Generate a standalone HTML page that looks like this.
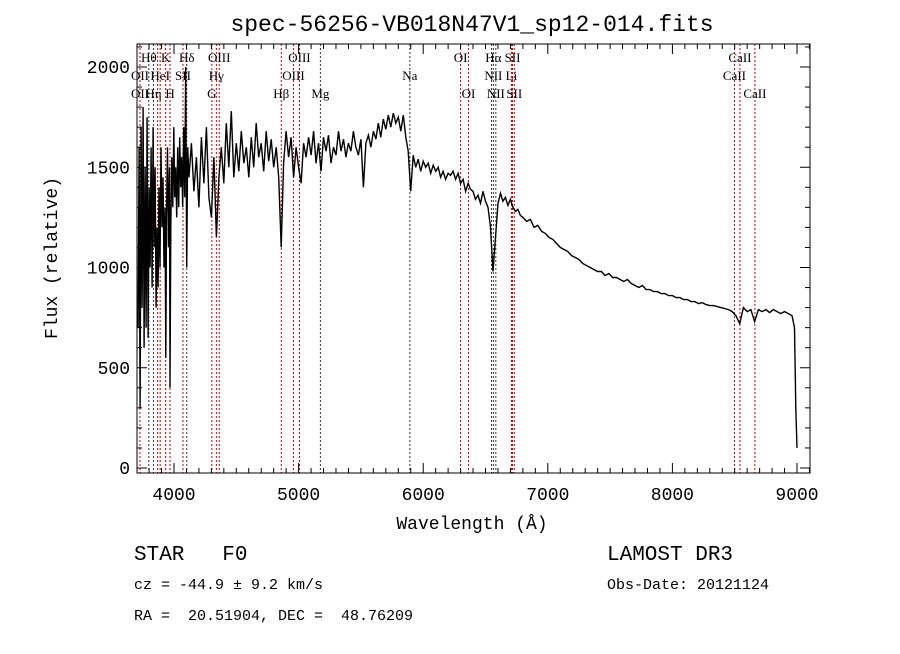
<!DOCTYPE html>
<html><head><meta charset="utf-8"><style>
body{margin:0;background:#fff;}
svg text{font-family:"Liberation Serif",serif;white-space:pre;}
.mono{font-family:"Liberation Mono",monospace !important;}
</style></head><body>
<svg id="chart" width="900" height="649" viewBox="0 0 900 649" xmlns="http://www.w3.org/2000/svg" xml:space="preserve">
<rect x="0" y="0" width="900" height="649" fill="#fff"/>
<text class="mono" x="472" y="31" font-size="23" text-anchor="middle">spec-56256-VB018N47V1_sp12-014.fits</text>
<g id="lines"></g>
<g id="labels"></g>
<polyline id="spec" fill="none" stroke="#000" stroke-width="1.4"/>
<g id="axes"></g>
<text class="mono" x="472" y="529" font-size="18" text-anchor="middle">Wavelength (Å)</text>
<text class="mono" transform="translate(57,258) rotate(-90)" font-size="18" text-anchor="middle">Flux (relative)</text>
<text class="mono" x="134" y="560" font-size="21">STAR   F0</text>
<text class="mono" x="607" y="560" font-size="21">LAMOST DR3</text>
<text class="mono" x="134" y="589" font-size="15">cz = -44.9 ± 9.2 km/s</text>
<text class="mono" x="607" y="589" font-size="15">Obs-Date: 20121124</text>
<text class="mono" x="134" y="620" font-size="15">RA =  20.51904, DEC =  48.76209</text>
</svg>
<script>
const waves=[3712,3720,3728,3736,3744,3752,3760,3768,3776,3784,3792,3800,3808,3816,3824,3832,3840,3848,3856,3864,3872,3880,3888,3896,3904,3912,3920,3928,3934,3940,3948,3956,3964,3968,3974,3982,3990,3998,4006,4014,4022,4030,4038,4046,4054,4062,4070,4078,4086,4094,4102,4110,
4120,4140,4160,4180,4200,4220,4240,4260,4280,4300,4320,4340,4360,4380,4400,4420,4440,4460,4480,4500,4520,4540,4560,4580,4600,4620,4640,4660,4680,4700,4720,4740,4760,4780,4800,4820,4840,4860,4880,4900,4920,4940,4960,4980,5000,5020,5040,5060,5080,5100,5120,5140,5160,5180,5200,5220,5240,5260,5280,5300,5320,5340,5360,5380,5400,5420,5440,5460,5480,5500,5520,5540,5560,5580,5600,5620,5640,5660,5680,5700,5720,5740,5760,5780,5800,5820,5840,5860,5880,5900,5920,5940,5960,5980,6000,6020,6040,6060,6080,6100,6120,6140,6160,6180,6200,6220,6240,6260,6280,6300,6320,6340,6360,6380,6400,6420,6440,6460,6480,6500,6520,6540,6560,6580,6600,6620,6640,6660,6680,6700,6720,6740,6760,6780,6800,
6830,6860,6890,6920,6950,6980,7010,7040,7070,7100,7130,7160,7190,7220,7250,7280,7310,7340,7370,7400,7430,7460,7490,7520,7550,7580,7610,7640,7670,7700,7730,7760,7790,7820,7850,7880,7910,7940,7970,8000,8030,8060,8090,8120,8150,8180,8210,8240,8270,8300,8330,8360,8390,8420,8450,8480,8510,8540,8570,8600,8630,8660,8690,8720,8750,8780,8810,8840,8870,8900,8930,8960,8980,8990,9000];
const fluxes=[700,1600,300,1700,800,1800,600,1500,700,1750,650,1400,1000,1600,900,1700,1100,1500,800,1200,900,1400,1000,1600,1200,1450,1000,1300,550,1250,1600,1100,1500,400,1200,1550,1300,1700,1350,1500,1250,1600,1300,1650,1400,1550,1300,1700,1350,2000,1000,1600,
1450,1620,1380,1550,1300,1650,1420,1700,1350,1250,1550,1150,1450,1600,1420,1720,1500,1780,1450,1620,1480,1680,1520,1600,1450,1650,1500,1720,1550,1620,1480,1680,1530,1640,1500,1600,1450,1100,1520,1680,1550,1650,1450,1600,1500,1420,1620,1550,1650,1560,1680,1520,1620,1480,1650,1580,1660,1520,1600,1560,1680,1580,1640,1550,1620,1580,1680,1600,1560,1640,1400,1620,1660,1600,1680,1640,1720,1650,1740,1690,1760,1700,1770,1720,1750,1680,1760,1650,1580,1380,1560,1500,1540,1480,1530,1500,1520,1470,1510,1480,1500,1450,1480,1440,1470,1460,1480,1440,1470,1420,1440,1380,1420,1390,1380,1340,1360,1320,1380,1330,1300,1200,980,1150,1320,1370,1330,1350,1310,1340,1300,1280,1290,1260,1250,
1230,1240,1200,1210,1180,1170,1150,1140,1120,1100,1090,1080,1060,1050,1040,1020,1010,1000,990,980,980,960,970,950,950,940,930,940,920,910,900,910,890,890,880,880,870,870,860,860,850,850,840,840,830,830,820,825,815,810,810,805,800,795,790,780,760,720,800,780,790,730,790,780,790,775,790,780,770,780,770,760,700,300,100];
const xTicks=[4000,5000,6000,7000,8000,9000];
const yTicks=[0,500,1000,1500,2000];
const lineWaves=[3727,3798,3835,3869,3889,3933,3968,4072,4102,4304,4340,4363,4861,4959,5007,5175,5893,6300,6363,6548,6563,6583,6708,6717,6731,8498,8542,8662];
const lineRed=[1,0,0,1,1,1,1,1,0,1,1,1,1,1,1,0,0,1,1,0,0,0,1,1,1,1,1,1];
const labelText=["Hθ","K","Hδ","OIII","OIII","OI","Hα","SII","CaII","OII","HeI","SII","Hγ","OIII","Na","NII","Li","CaII","OII","Hη","H","G","Hβ","Mg","OI","NII","SII","CaII"];
const labelWave=[3798,3933,4102,4363,5007,6300,6563,6717,8542,3727,3889,4072,4340,4959,5893,6563,6708,8498,3727,3835,3968,4304,4861,5175,6363,6583,6731,8662];
const labelRow=[0,0,0,0,0,0,0,0,0,1,1,1,1,1,1,1,1,1,2,2,2,2,2,2,2,2,2,2];

const L=137,R=810,T=44,B=473;
const X=w=>174+(w-4000)*0.1246;
const Y=f=>468-f*0.2005;
const NS='http://www.w3.org/2000/svg';
function mk(tag,attrs,parent){const e=document.createElementNS(NS,tag);for(const k in attrs)e.setAttribute(k,attrs[k]);parent.appendChild(e);return e;}

const lg=document.getElementById('lines');
lineWaves.forEach((w,i)=>{
  const l=mk('line',{x1:X(w),x2:X(w),y1:T,y2:B,stroke:lineRed[i]?'#c00000':'#333','stroke-width':1,'stroke-dasharray':'2,2'},lg);
  
  
});
const lb=document.getElementById('labels');
labelText.forEach((t,i)=>{
  const e=mk('text',{x:X(labelWave[i]),y:62+labelRow[i]*18,'font-size':13,'text-anchor':'middle'},lb);
  e.textContent=t;
  
  
});
document.getElementById('spec').setAttribute('points',waves.map((w,i)=>X(w).toFixed(1)+','+Math.max(T,Math.min(B,Y(fluxes[i]))).toFixed(1)).join(' '));

const ax=document.getElementById('axes');
const fr=mk('rect',{x:L,y:T,width:R-L,height:B-T,fill:'none',stroke:'#000','stroke-width':1},ax);


for(let w=3800;w<=9100;w+=100){
  const x=X(w);if(x<L||x>R)continue;
  const len=(w%1000===0)?10:5;
  mk('line',{x1:x,x2:x,y1:B,y2:B-len,stroke:'#000'},ax);
  mk('line',{x1:x,x2:x,y1:T,y2:T+len,stroke:'#000'},ax);
}
xTicks.forEach(w=>{
  const t=mk('text',{x:X(w),y:500,'font-size':18,'text-anchor':'middle',class:'mono'},ax);
  t.textContent=w;
  
  
});
for(let f=0;f<=2100;f+=100){
  const y=Y(f);if(y<T||y>B)continue;
  const len=(f%500===0)?10:5;
  mk('line',{x1:L,x2:L+len,y1:y,y2:y,stroke:'#000'},ax);
  mk('line',{x1:R,x2:R-len,y1:y,y2:y,stroke:'#000'},ax);
}
yTicks.forEach(f=>{
  const t=mk('text',{x:130,y:Y(f)+6,'font-size':18,'text-anchor':'end',class:'mono'},ax);
  t.textContent=f;
  
  
});
</script>
</body></html>
